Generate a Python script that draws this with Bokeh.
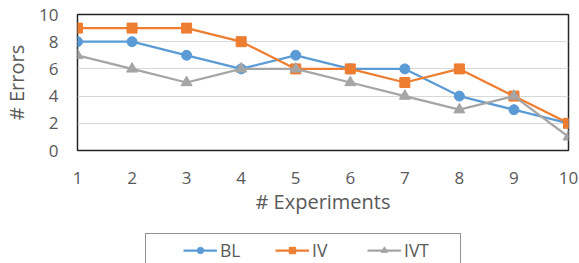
from bokeh.plotting import figure
from bokeh.models import Range1d, FixedTicker, Legend, LegendItem
from bokeh.layouts import column
from bokeh.embed import file_html
from bokeh.resources import INLINE

experiments = [1, 2, 3, 4, 5, 6, 7, 8, 9, 10]
bl = [8, 8, 7, 6, 7, 6, 6, 4, 3, 2]
iv = [9, 9, 9, 8, 6, 6, 5, 6, 4, 2]
ivt = [7, 6, 5, 6, 6, 5, 4, 3, 4, 1]
y_ticks = [0, 2, 4, 6, 8, 10]
series_names = ["BL", "IV", "IVT"]

FONT = "Open Sans"
TXT = "#595959"
COLORS = ["#5B9BD5", "#ED7D31", "#A5A5A5"]
MARKERS = ["circle", "square", "triangle"]
SIZES = [10, 10, 11]

p = figure(width=579, height=230, output_backend="svg", toolbar_location=None,
           x_range=Range1d(1, 10), y_range=Range1d(0, 10),
           min_border_left=77, min_border_top=14, min_border_right=11, min_border_bottom=80)

p.outline_line_color = "#262626"
p.outline_line_width = 1.5
p.background_fill_color = "white"
p.border_fill_color = "white"

p.xgrid.grid_line_color = None
p.ygrid.grid_line_color = "#D9D9D9"
p.ygrid.grid_line_width = 1.2

p.xaxis.ticker = FixedTicker(ticks=experiments)
p.yaxis.ticker = FixedTicker(ticks=y_ticks)
for ax in (p.xaxis[0], p.yaxis[0]):
    ax.axis_line_color = None
    ax.major_tick_line_color = None
    ax.minor_tick_line_color = None
    ax.major_tick_out = 0
    ax.major_tick_in = 0
    ax.major_label_text_font = FONT
    ax.major_label_text_font_size = "17px"
    ax.major_label_text_color = TXT
    ax.axis_label_text_font = FONT
    ax.axis_label_text_font_size = "20px"
    ax.axis_label_text_color = TXT
    ax.axis_label_text_font_style = "normal"

p.xaxis.axis_label = "# Experiments"
p.yaxis.axis_label = "# Errors"
p.xaxis.major_label_standoff = 21
p.yaxis.major_label_standoff = 19
p.xaxis.axis_label_standoff = 1
p.yaxis.axis_label_standoff = 6

lw = 2.25
for ys, c, m, s in zip([bl, iv, ivt], COLORS, MARKERS, SIZES):
    p.line(experiments, ys, line_color=c, line_width=lw)
    p.scatter(experiments, ys, marker=m, size=s, fill_color=c, line_color=c)

# legend strip below the chart (legend-only renderers sit outside its visible range)
leg = figure(width=579, height=33, output_backend="svg", toolbar_location=None,
             x_range=Range1d(0, 1), y_range=Range1d(0, 1),
             x_axis_location=None, y_axis_location=None,
             min_border_left=0, min_border_right=0, min_border_top=0, min_border_bottom=0)
leg.grid.visible = False
leg.outline_line_color = None
leg.background_fill_color = "white"
leg.border_fill_color = "white"

items = []
for name, c, m, s in zip(series_names, COLORS, MARKERS, SIZES):
    rl = leg.line([-10, -9], [-10, -9], line_color=c, line_width=lw)
    rm = leg.scatter([-10], [-10], marker=m, size=s, fill_color=c, line_color=c)
    items.append(LegendItem(label=name, renderers=[rl, rm]))

legend = Legend(items=items, orientation="horizontal", location=(68, -4), margin=0,
                padding=4, spacing=3, label_width=52, glyph_width=34, glyph_height=16,
                label_standoff=3, label_text_font=FONT, label_text_font_size="17.5px",
                label_text_color=TXT, border_line_color="#262626", border_line_width=1.2,
                background_fill_alpha=1, title=" ", title_location="left",
                title_text_font_size="1px", title_standoff=32)
leg.add_layout(legend, "center")

layout = column(p, leg, spacing=0)
open("out.html", "w").write(file_html(layout, INLINE))
